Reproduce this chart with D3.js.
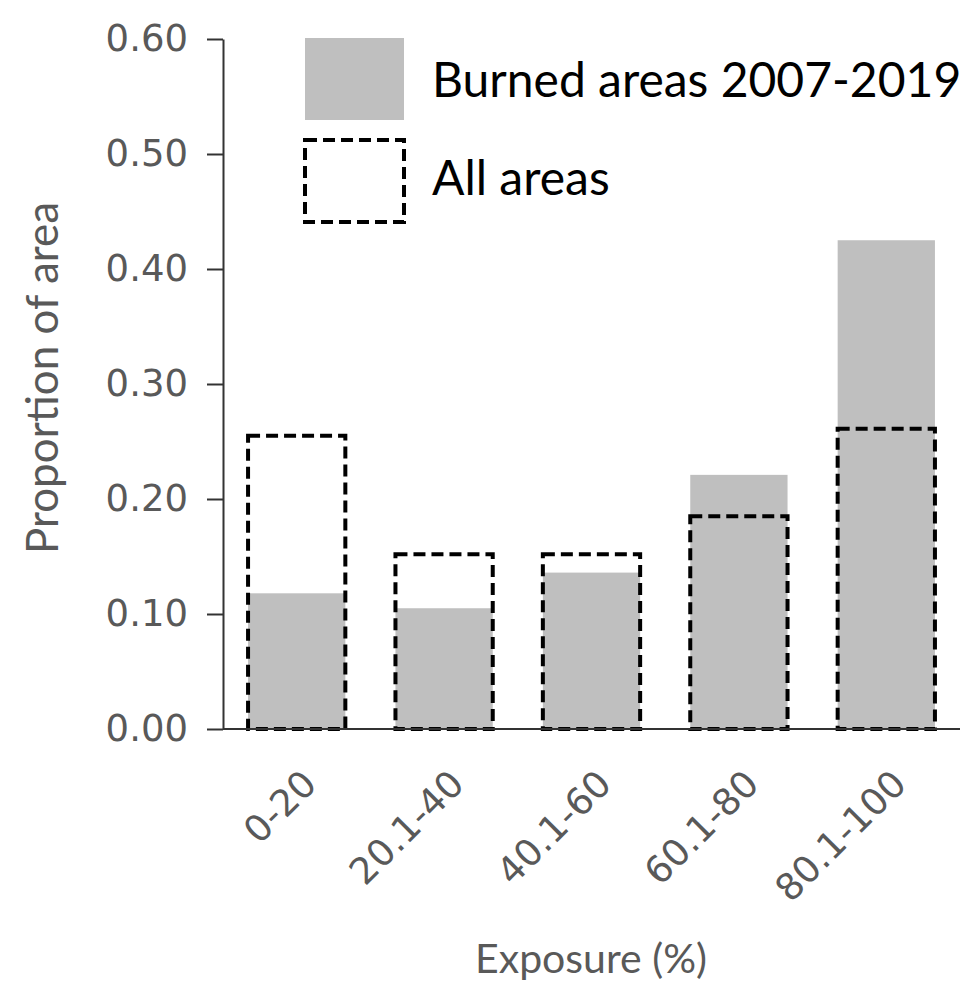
<!DOCTYPE html>
<html>
<head>
<meta charset="utf-8">
<script src="https://cdn.jsdelivr.net/npm/d3@7"></script>
<style>
  html, body { margin: 0; padding: 0; background: #fff; }
  svg { display: block; }
</style>
</head>
<body>
<svg id="chart" width="975" height="994"></svg>
<script>
// Exposure classes and the share of area in each
const categories = ["0-20", "20.1-40", "40.1-60", "60.1-80", "80.1-100"];
const burnedValues = [0.118, 0.105, 0.136, 0.221, 0.425];
const allValues = [0.255, 0.152, 0.152, 0.185, 0.261];
const yTicks = [0, 0.1, 0.2, 0.3, 0.4, 0.5, 0.6];
const seriesNames = ["Burned areas 2007-2019", "All areas"];
const xTitle = "Exposure (%)";
const yTitle = "Proportion of area";

const svg = d3.select("#chart");
const plot = { left: 223, right: 960, top: 39, bottom: 729 };
const grey = "#595959";
const fill = "#bfbfbf";
const dash = "12 6";

const x = d3.scaleBand()
  .domain(categories)
  .range([plot.left, plot.right])
  .paddingInner(0.34)
  .paddingOuter(0.17);

const y = d3.scaleLinear()
  .domain([0, 0.6])
  .range([plot.bottom, plot.top]);

// y axis
const yAxis = svg.append("g")
  .attr("transform", `translate(${plot.left},0)`)
  .call(d3.axisLeft(y).tickValues(yTicks).tickFormat(d3.format(".2f")).tickSize(16).tickSizeOuter(0).tickPadding(19));
yAxis.select(".domain").attr("stroke", "#333").attr("stroke-width", 2);
yAxis.selectAll(".tick line").attr("stroke", "#333").attr("stroke-width", 2);
yAxis.selectAll(".tick text")
  .attr("fill", grey)
  .style("font-family", "'DejaVu Sans', sans-serif")
  .style("font-size", "37px");

// filled bars: burned areas
svg.append("g").selectAll("rect")
  .data(categories)
  .join("rect")
  .attr("x", d => x(d))
  .attr("width", x.bandwidth())
  .attr("y", (d, i) => y(burnedValues[i]))
  .attr("height", (d, i) => y(0) - y(burnedValues[i]))
  .attr("fill", fill);

// dashed outline bars: all areas
svg.append("g").selectAll("rect")
  .data(categories)
  .join("rect")
  .attr("x", d => x(d))
  .attr("width", x.bandwidth())
  .attr("y", (d, i) => y(allValues[i]))
  .attr("height", (d, i) => y(0) - y(allValues[i]))
  .attr("fill", "none")
  .attr("stroke", "#000")
  .attr("stroke-width", 4)
  .attr("stroke-dasharray", dash);

// x axis baseline
svg.append("line")
  .attr("x1", plot.left).attr("x2", plot.right)
  .attr("y1", y(0)).attr("y2", y(0))
  .attr("stroke", "#333").attr("stroke-width", 2);

// rotated category labels
svg.append("g").selectAll("text")
  .data(categories)
  .join("text")
  .attr("transform", d => `translate(${x(d) + x.bandwidth() / 2 + 22},786) rotate(-45)`)
  .attr("text-anchor", "end")
  .attr("fill", grey)
  .style("font-family", "'DejaVu Sans', sans-serif")
  .style("font-size", "37px")
  .text(d => d);

// axis titles
svg.append("text")
  .attr("x", 591).attr("y", 973)
  .attr("text-anchor", "middle")
  .attr("fill", grey)
  .style("font-family", "Lato, sans-serif")
  .style("font-size", "41px")
  .text(xTitle);

svg.append("text")
  .attr("transform", "translate(58,378) rotate(-90)")
  .attr("text-anchor", "middle")
  .attr("fill", grey)
  .style("font-family", "Lato, sans-serif")
  .style("font-size", "44px")
  .text(yTitle);

// legend
const legend = svg.append("g").attr("transform", "translate(305,38)");
legend.append("rect")
  .attr("x", 0).attr("y", 0).attr("width", 99).attr("height", 82)
  .attr("fill", fill);
legend.append("rect")
  .attr("x", 0).attr("y", 102).attr("width", 99).attr("height", 82)
  .attr("fill", "none")
  .attr("stroke", "#000")
  .attr("stroke-width", 4)
  .attr("stroke-dasharray", dash);
legend.selectAll("text.lbl")
  .data(seriesNames)
  .join("text")
  .attr("class", "lbl")
  .attr("x", 127)
  .attr("y", (d, i) => 59 + i * 98)
  .attr("fill", "#000")
  .style("font-family", "Lato, sans-serif")
  .style("font-size", "48px")
  .text(d => d);
</script>
</body>
</html>
